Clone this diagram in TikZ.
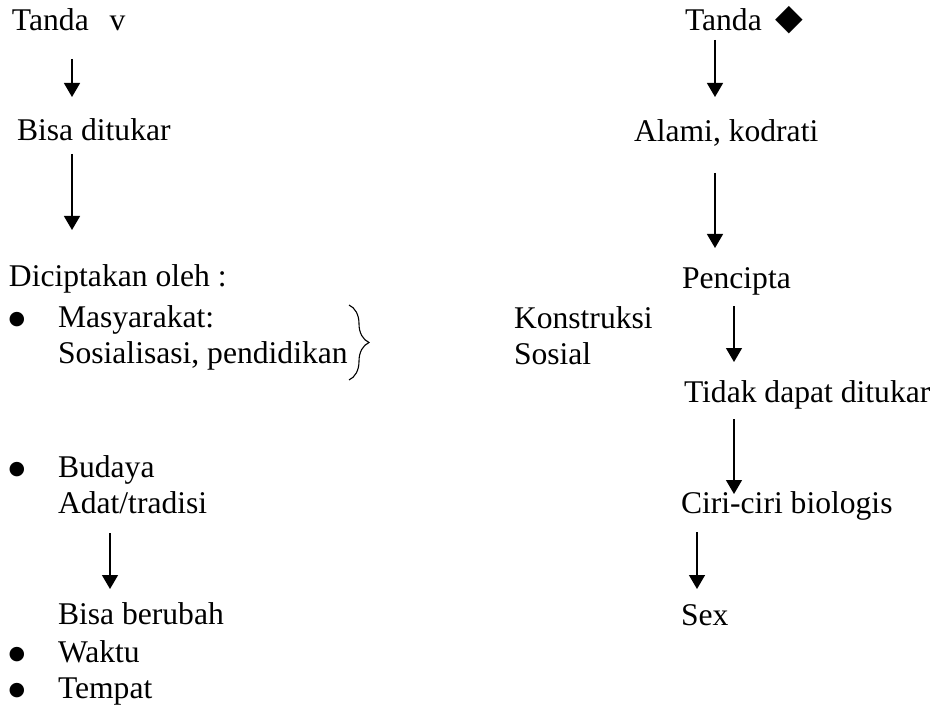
\documentclass[tikz,border=0pt]{standalone}
\usepackage{fontspec}
\setmainfont{Liberation Serif}
\newfontfamily\djsans{DejaVu Sans}
\usetikzlibrary{arrows.meta}
\usetikzlibrary{decorations.pathreplacing}

\begin{document}
\begin{tikzpicture}[x=1pt,y=-1pt]

\tikzstyle{txt} = [anchor=base west,inner sep=0,outer sep=0,font=\fontsize{31.6}{36}\selectfont]
\tikzstyle{dot-b} = [anchor=center,inner sep=0,outer sep=0,font=\djsans\fontsize{19}{19}\selectfont]
\tikzstyle{arr} = [line width=1.4pt,-{Triangle[width=16pt,length=14pt]}]

\useasboundingbox (0,0) rectangle (934,711);

% left column
\node [txt] (tv) at (12,31) {Tanda\hspace{21pt}v};
\node [txt] (bd) at (17,141) {Bisa ditukar};
\node [txt] (dc) at (9,287) {Diciptakan oleh :};
\node [dot-b] (d1) at (17,320) {●};
\node [txt] (ms) at (58,327) {Masyarakat:};
\node [txt] (sp) at (58,363) {Sosialisasi, pendidikan};
\node [txt] (ks) at (514,328) {Konstruksi};
\node [txt] (ss) at (514,364) {Sosial};
\node [dot-b] (d2) at (17,470) {●};
\node [txt] (bu) at (58,477) {Budaya};
\node [txt] (at) at (58,513) {Adat/tradisi};
\node [txt] (bb) at (58,624) {Bisa berubah};
\node [dot-b] (d3) at (17,655) {●};
\node [txt] (wk) at (58,662) {Waktu};
\node [dot-b] (d4) at (17,691) {●};
\node [txt] (tp) at (58,698) {Tempat};

% right column
\node [txt] (tr) at (685,31) {Tanda};
\node [anchor=center,inner sep=0,font=\djsans\fontsize{36}{36}\selectfont] (dm) at (789,20.5) {◆};
\node [txt] (ak) at (634,142) {Alami, kodrati};
\node [txt] (pc) at (682,288) {Pencipta};
\node [txt] (tt) at (684,402) {Tidak dapat ditukar};
\node [txt] (cb) at (681,513) {Ciri-ciri biologis};
\node [txt] (sx) at (681,625) {Sex};

\coordinate (a1) at (72,59);   \coordinate (a1e) at (72,97);
\coordinate (a2) at (72,154);  \coordinate (a2e) at (72,230);
\coordinate (a3) at (110,533); \coordinate (a3e) at (110,589);
\coordinate (b1) at (715,40);  \coordinate (b1e) at (715,97);
\coordinate (b2) at (715,173); \coordinate (b2e) at (715,248);
\coordinate (b3) at (734,306); \coordinate (b3e) at (734,362);
\coordinate (b4) at (734,419); \coordinate (b4e) at (734,494);
\coordinate (b5) at (697,532); \coordinate (b5e) at (697,589);

\draw [arr] (a1) -- (a1e);
\draw [arr] (a2) -- (a2e);
\draw [arr] (a3) -- (a3e);
\draw [arr] (b1) -- (b1e);
\draw [arr] (b2) -- (b2e);
\draw [arr] (b3) -- (b3e);
\draw [arr] (b4) -- (b4e);
\draw [arr] (b5) -- (b5e);

\coordinate (br1) at (349,305);
\coordinate (br2) at (349,380);
\draw[decorate,line width=1.1pt,decoration={brace,amplitude=20pt}] (br1)--(br2);

\end{tikzpicture}
\end{document}
